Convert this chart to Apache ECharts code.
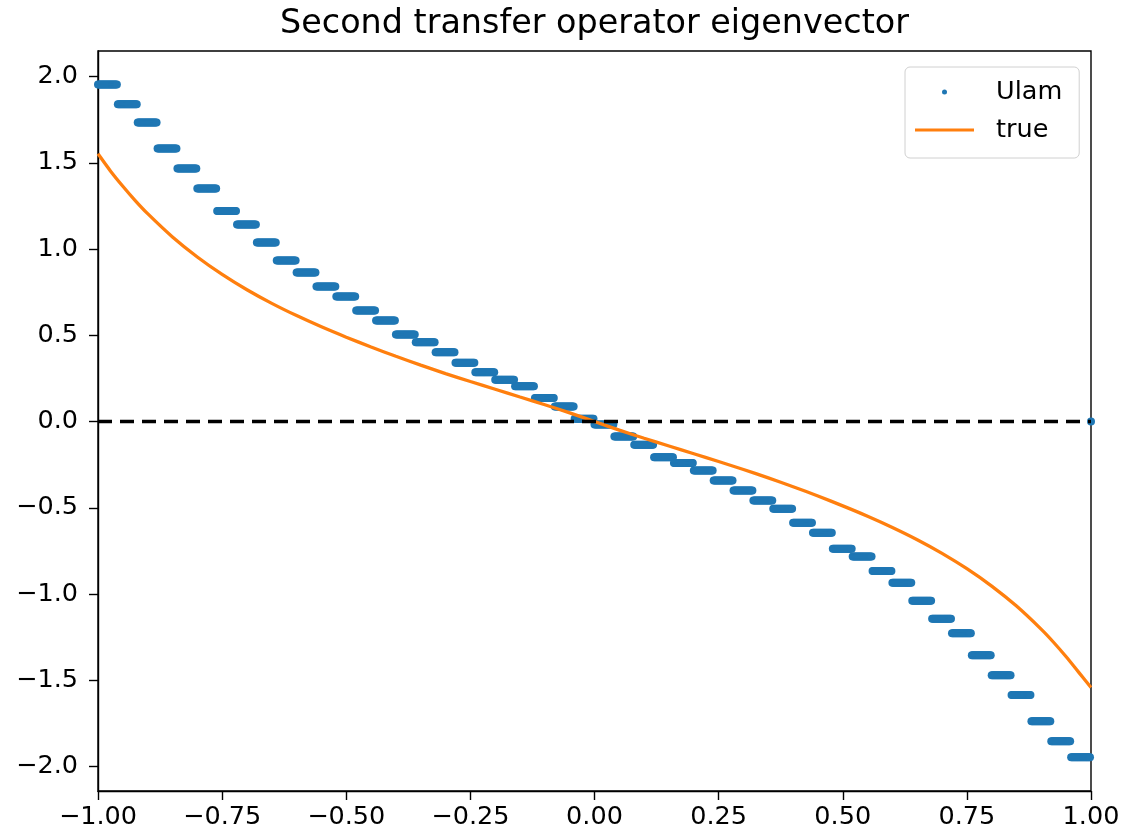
<!DOCTYPE html>
<html>
<head>
<meta charset="utf-8">
<script src="https://cdn.jsdelivr.net/npm/echarts@6/dist/echarts.min.js"></script>
<style>
  html, body { margin: 0; padding: 0; background: #fff; }
  #chart { width: 1128px; height: 838px; }
</style>
</head>
<body>
<div id="chart"></div>
<script>
// Ulam approximation: one constant value per cell of a uniform 50-cell partition of [-1, 1]
const ulamCellValues = [
  1.954, 1.839, 1.733, 1.583, 1.467, 1.351, 1.221, 1.142, 1.038, 0.933,
  0.864, 0.783, 0.725, 0.643, 0.586, 0.504, 0.460, 0.402, 0.340, 0.286,
  0.242, 0.205, 0.137, 0.087, 0.016, -0.017, -0.087, -0.135, -0.207, -0.240,
  -0.284, -0.342, -0.400, -0.458, -0.506, -0.587, -0.645, -0.738, -0.783, -0.866,
  -0.935, -1.039, -1.144, -1.227, -1.355, -1.471, -1.585, -1.737, -1.853, -1.946
];
// Evaluation grid: 1001 equally spaced points, 20 per cell
const evalPointCount = 1001;
const pointsPerCell = 20;

// Exact eigenvector, sampled along x
const trueX = [
  -1, -0.975, -0.95, -0.925, -0.9, -0.85, -0.8, -0.75, -0.7, -0.65,
  -0.6, -0.55, -0.5, -0.45, -0.4, -0.35, -0.3, -0.25, -0.2, -0.15,
  -0.1, -0.05, 0, 0.05, 0.1, 0.15, 0.2, 0.25, 0.3, 0.35,
  0.4, 0.45, 0.5, 0.55, 0.6, 0.65, 0.7, 0.75, 0.8, 0.85,
  0.9, 0.925, 0.95, 0.975, 1
];
const trueY = [
  1.552, 1.453, 1.364, 1.281, 1.205, 1.070, 0.954, 0.853, 0.764, 0.685,
  0.614, 0.549, 0.489, 0.432, 0.378, 0.327, 0.278, 0.232, 0.187, 0.142,
  0.097, 0.050, 0, -0.050, -0.097, -0.142, -0.187, -0.232, -0.278, -0.327,
  -0.378, -0.432, -0.489, -0.549, -0.614, -0.685, -0.764, -0.853, -0.954, -1.070,
  -1.205, -1.281, -1.364, -1.453, -1.542
];

// Horizontal reference at zero
const zeroLineX = [-1, 1];
const zeroLineY = [0, 0];

const xTicks = [-1, -0.75, -0.5, -0.25, 0, 0.25, 0.5, 0.75, 1];
const yTicks = [-2, -1.5, -1, -0.5, 0, 0.5, 1, 1.5, 2];

const FONT = 'DejaVu Sans';
const TICK_FONT = 25.5;
const minus = s => s.replace('-', '\u2212');

// Ulam eigenvector evaluated on the grid (zero outside the partition)
const ulamPoints = [];
for (let k = 0; k < evalPointCount; k++) {
  const x = -1 + 2 * k / (evalPointCount - 1);
  const cell = Math.floor(k / pointsPerCell);
  const v = cell < ulamCellValues.length ? ulamCellValues[cell] : 0;
  ulamPoints.push([x, v]);
}
const truePoints = trueX.map((x, i) => [x, trueY[i]]);
const zeroPoints = zeroLineX.map((x, i) => [x, zeroLineY[i]]);

const chart = echarts.init(document.getElementById('chart'), null, { renderer: 'canvas' });
chart.setOption({
  animation: false,
  backgroundColor: '#fff',
  title: {
    text: 'Second transfer operator eigenvector',
    left: 594.5,
    top: 8,
    padding: 0,
    textAlign: 'center',
    textStyle: { fontFamily: FONT, fontSize: 33.4, fontWeight: 'normal', color: '#000' }
  },
  legend: {
    data: [
      { name: 'Ulam' },
      { name: 'true', icon: 'path://M0,0H59V3H0Z' }
    ],
    orient: 'vertical',
    left: 905,
    top: 67,
    padding: [12, 17, 15, 10],
    itemWidth: 59,
    itemHeight: 5,
    itemGap: 12,
    borderColor: '#d0d0d0',
    borderWidth: 1,
    borderRadius: 5,
    backgroundColor: 'rgba(255,255,255,0.8)',
    textStyle: { fontFamily: FONT, fontSize: TICK_FONT, color: '#000', lineHeight: 26, padding: [0, 0, 0, 17] }
  },
  grid: {
    left: 98, right: 37, top: 51, bottom: 47,
    show: true, borderColor: '#000', borderWidth: 1.4, backgroundColor: 'transparent'
  },
  xAxis: {
    type: 'value',
    min: -1, max: 1, interval: 0.25,
    axisLine: { show: true, onZero: false, lineStyle: { color: '#000', width: 1.4 } },
    axisTick: { show: true, inside: false, length: 9, lineStyle: { color: '#000', width: 1.4 } },
    axisLabel: {
      show: true, margin: 13, showMinLabel: true, showMaxLabel: true,
      fontFamily: FONT, fontSize: TICK_FONT, color: '#000',
      formatter: v => minus(v.toFixed(2))
    },
    splitLine: { show: false }
  },
  yAxis: {
    type: 'value',
    min: -2.142, max: 2.148,
    axisLine: { show: true, onZero: false, lineStyle: { color: '#000', width: 1.4 } },
    axisTick: { show: true, inside: false, length: 9, customValues: yTicks, lineStyle: { color: '#000', width: 1.4 } },
    axisLabel: {
      show: true, margin: 20, customValues: yTicks,
      fontFamily: FONT, fontSize: TICK_FONT, color: '#000',
      formatter: v => minus(v.toFixed(1))
    },
    splitLine: { show: false }
  },
  series: [
    {
      name: 'Ulam',
      type: 'scatter',
      data: ulamPoints,
      symbol: 'circle',
      symbolSize: 8,
      itemStyle: { color: '#1f77b4', opacity: 1 },
      z: 2
    },
    {
      name: 'true',
      type: 'line',
      data: truePoints,
      symbol: 'none',
      smooth: 0.3,
      lineStyle: { color: '#ff7f0e', width: 3.3 },
      itemStyle: { color: '#ff7f0e' },
      z: 3
    },
    {
      name: 'zero',
      type: 'line',
      data: zeroPoints,
      symbol: 'none',
      lineStyle: { color: '#000', width: 3.4, type: [14, 8] },
      z: 4
    }
  ]
});
</script>
</body>
</html>
